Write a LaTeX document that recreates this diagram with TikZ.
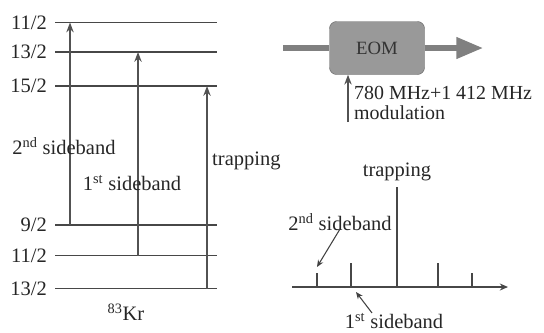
\documentclass[tikz,border=0pt]{standalone}
\usepackage{fontspec}
\setmainfont{Liberation Serif}
\usetikzlibrary{arrows.meta,positioning}

\begin{document}
\begin{tikzpicture}[x=0.03cm,y=-0.03cm,>=Stealth,
  level/.style={line width=1.6pt,draw=black!72},
  trans/.style={->,line width=1.2pt,draw=black!68},
  lbl/.style={font=\fontsize{17.5}{20}\selectfont,inner sep=0pt,text=black!85},
  beam/.style={line width=4.5pt,draw=black!50},
  pointer/.style={-{Stealth[length=6pt,width=5pt]},line width=0.9pt,draw=black!75}]
  \useasboundingbox (0,0) rectangle (544,332);
  % hyperfine levels of 83Kr
  \foreach \name/\y/\j in {u1/22.5/11,u2/52/13,u3/86/15,g1/225/9,g2/255.5/11,g3/288.5/13}{
    \coordinate (\name-l) at (55,\y);
    \coordinate (\name-r) at (217,\y);
    \draw[level] (\name-l) -- (\name-r);
    \node[lbl,anchor=east] (\name-j) at (47,\y) {\j/2};
  }
  % transitions
  \draw[trans] (70,0 |- g1-l) -- (70,0 |- u1-l);
  \draw[trans] (138,0 |- g2-l) -- (138,0 |- u2-l);
  \draw[trans] (207,0 |- g3-l) -- (207,0 |- u3-l);
  \node[lbl] (sb2) at (64,146) {2\textsuperscript{nd} sideband};
  \node[lbl] (sb1) at (132,183) {1\textsuperscript{st} sideband};
  \node[lbl,anchor=west] (trap) at (212,161) {trapping};
  \node[lbl] (kr) at (126,312) {\textsuperscript{83}Kr};

  % modulator
  \node[draw=black!60,fill=black!40,rounded corners=6pt,minimum width=2.85cm,
        minimum height=1.59cm,font=\fontsize{16}{18}\selectfont,text=black!80] (eom) at (377,48) {EOM};
  \coordinate (beamin) at (283,48);
  \coordinate (beamout) at (483,48);
  \draw[beam] (beamin) -- (eom);
  \draw[beam,-{Triangle[length=0.8cm,width=0.62cm]},black!50] (eom) -- (beamout);
  \coordinate (modsrc) at (348,122);
  \draw[trans] (modsrc) -- (modsrc |- eom.south);
  \node[lbl,anchor=north west,align=left,font=\fontsize{17}{17.5}\selectfont] (freq) at (354,86)
    {780 MHz+1 412 MHz\\modulation};

  % spectrum
  \coordinate (ax0) at (292,287);
  \coordinate (ax1) at (508,287);
  \draw[line width=1.3pt,black!72,-{Stealth[length=7pt,width=6pt]}] (ax0) -- (ax1);
  \foreach \name/\x/\h in {p1/317/273,p2/351/263,p3/397/187,p4/438/263,p5/472/273}{
    \coordinate (\name) at (\x,\h);
    \draw[line width=1.3pt,black!72] (\name) -- (\name |- ax0);
  }
  \node[lbl] (trap2) at (397,172) {trapping};
  \node[lbl] (sb2b) at (340,222) {2\textsuperscript{nd} sideband};
  \node[lbl] (sb1b) at (394,321) {1\textsuperscript{st} sideband};
  \coordinate (sb2tip) at (317,267);
  \coordinate (sb1tip) at (356,292);
  \draw[pointer] (sb2b.south) ++(0,-2) -- (sb2tip);
  \draw[pointer] (sb1b.north -| 372,0) -- (sb1tip);
\end{tikzpicture}
\end{document}
